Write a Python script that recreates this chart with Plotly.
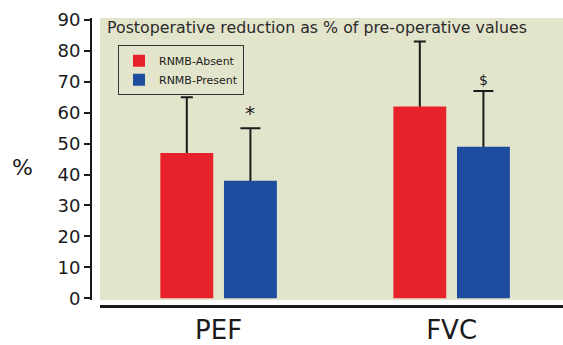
import plotly.graph_objects as go

categories = ["PEF", "FVC"]
absent_values = [47, 62]
absent_sd = [18, 21]
present_values = [38, 49]
present_sd = [17, 18]
markers = ["*", "$"]
y_ticks = [0, 10, 20, 30, 40, 50, 60, 70, 80, 90]

RED = "#e8222b"
BLUE = "#1e4da0"
BEIGE = "#e3e4cc"
INK = "#1a1a1a"
FONT = "DejaVu Sans"

BAR_W = 0.227
RED_OFF = -0.25
BLUE_OFF = 0.023

fig = go.Figure()
# Error bars first (drawn beneath the bars so only the upward half shows)
for vals, sd, off, cap in [(absent_values, absent_sd, RED_OFF, 6),
                           (present_values, present_sd, BLUE_OFF, 10)]:
    fig.add_trace(go.Bar(
        x=categories, y=vals, showlegend=False, hoverinfo="skip",
        marker=dict(color="rgba(0,0,0,0)", line=dict(width=0)),
        width=BAR_W, offset=off,
        error_y=dict(type="data", array=sd, color=INK, thickness=2, width=cap),
    ))
fig.add_trace(go.Bar(
    x=categories, y=absent_values, name="RNMB-Absent",
    marker=dict(color=RED, line=dict(width=0)),
    width=BAR_W, offset=RED_OFF,
))
fig.add_trace(go.Bar(
    x=categories, y=present_values, name="RNMB-Present",
    marker=dict(color=BLUE, line=dict(width=0)),
    width=BAR_W, offset=BLUE_OFF,
))

for i, (m, v, e, sz) in enumerate(zip(markers, present_values, present_sd, [20, 14])):
    fig.add_annotation(x=i + BLUE_OFF + BAR_W / 2, y=v + e, xref="x", yref="y",
                       text=m, showarrow=False, yanchor="bottom", yshift=1,
                       font=dict(family=FONT, size=sz, color=INK))

fig.add_annotation(x=(105 - 91) / 472, y=(313 - 28) / 295, xref="paper", yref="paper",
                   text="Postoperative reduction as % of pre-operative values",
                   showarrow=False, xanchor="left", yanchor="middle",
                   font=dict(family=FONT, size=15.8, color="#2a2a2a"))
fig.add_annotation(x=-0.145, y=0.48, xref="paper", yref="paper", text="%",
                   showarrow=False, xanchor="center", yanchor="middle",
                   font=dict(family=FONT, size=22, color=INK))

fig.update_layout(
    width=563, height=345,
    margin=dict(l=91, r=0, t=18, b=32),
    paper_bgcolor="white", plot_bgcolor=BEIGE,
    barmode="overlay",
    showlegend=True,
    legend=dict(x=(118 - 91) / 472, y=(313 - 46) / 295, xanchor="left", yanchor="top",
                bgcolor=BEIGE, bordercolor="#333333", borderwidth=1,
                font=dict(family=FONT, size=11, color=INK),
                itemwidth=30, tracegroupgap=0),
    xaxis=dict(domain=[9 / 472, 1], anchor="free", position=0,
               range=[-0.509, 1.478], showline=True, linecolor=INK, linewidth=2.5,
               ticks="", showgrid=False, zeroline=False,
               tickfont=dict(family=FONT, size=26, color=INK)),
    yaxis=dict(domain=[6 / 295, 1], anchor="free", position=0,
               range=[-0.63, 90.63], tickvals=y_ticks,
               showline=True, linecolor=INK, linewidth=2,
               ticks="outside", ticklen=6, tickwidth=2, tickcolor=INK,
               showgrid=False, zeroline=False,
               tickfont=dict(family=FONT, size=18, color=INK)),
)

fig.write_html("out.html")
